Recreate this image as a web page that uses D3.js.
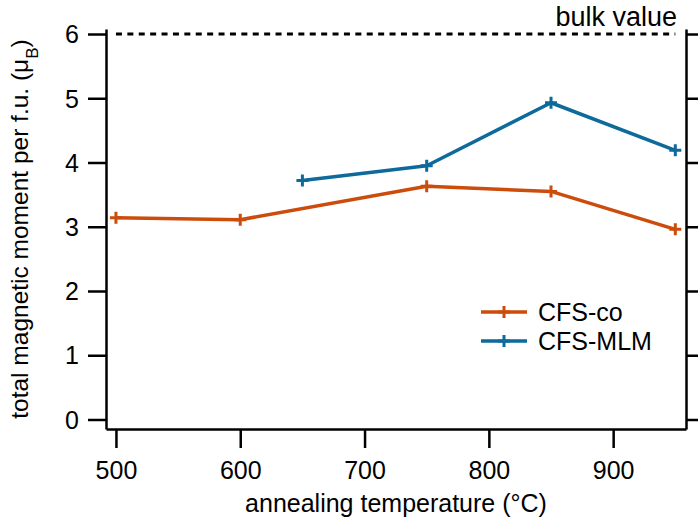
<!DOCTYPE html>
<html>
<head>
<meta charset="utf-8">
<script src="https://cdn.jsdelivr.net/npm/d3@7"></script>
<style>
  body { margin: 0; background: #fff; }
  svg { font-family: "Liberation Sans", Arial, Helvetica, sans-serif; }
</style>
</head>
<body>
<svg id="chart" width="698" height="523"></svg>
<script>
// data
const coTemps = [500, 600, 750, 850, 950]
const coMoments = [3.14, 3.11, 3.63, 3.55, 2.96]
const mlmTemps = [650, 750, 850, 950]
const mlmMoments = [3.72, 3.95, 4.93, 4.19]
const bulkValue = 6
const bulkRange = [500, 950]
const xTicks = [500, 600, 700, 800, 900]
const yTicks = [0, 1, 2, 3, 4, 5, 6]

const orange = "#cc4c0c"
const blue = "#0d6a9b"

let svg = d3.select("#chart")

let x = d3.scaleLinear()
  .domain([492, 958.6])
  .range([106, 686])

let y = d3.scaleLinear()
  .domain([-0.148, 6.078])
  .range([429, 29])

// axes
let xAxis = d3.axisBottom(x).tickValues(xTicks).tickSize(19).tickSizeOuter(0).tickPadding(13)
  .tickFormat(d3.format("d"))
let yAxis = d3.axisLeft(y).tickValues(yTicks).tickSize(18).tickSizeOuter(0).tickPadding(10)
  .tickFormat(d3.format("d"))
let yAxisRight = d3.axisRight(y).tickValues(yTicks).tickSize(18).tickSizeOuter(0).tickFormat("")

function styleAxis(g) {
  g.selectAll("path, line").attr("stroke", "#000").attr("stroke-width", 2.5)
  g.selectAll("text").attr("fill", "#000").attr("font-size", 25)
}

let gx = svg.append("g")
  .attr("transform", "translate(0,429)")
  .call(xAxis)
  .call(styleAxis)
gx.selectAll(".tick line").attr("x1", 0).attr("x2", 0).attr("y1", 0).attr("y2", 19)
gx.selectAll(".tick text").attr("y", 32).attr("dy", "0.71em")

let gy = svg.append("g")
  .attr("transform", "translate(106,0)")
  .call(yAxis)
  .call(styleAxis)
gy.selectAll(".tick line").attr("y1", 0).attr("y2", 0).attr("x1", 0).attr("x2", -18)
gy.selectAll(".tick text").attr("x", -27).attr("dy", "0.35em").attr("text-anchor", "end")

let gyr = svg.append("g")
  .attr("transform", "translate(686,0)")
  .call(yAxisRight)
  .call(styleAxis)
gyr.selectAll(".tick line").attr("y1", 0).attr("y2", 0).attr("x1", 0).attr("x2", 18)

// bulk value line
svg.append("line")
  .attr("x1", x(bulkRange[0]))
  .attr("x2", x(bulkRange[1]))
  .attr("y1", y(bulkValue))
  .attr("y2", y(bulkValue))
  .attr("stroke", "#000")
  .attr("stroke-width", 3)
  .attr("stroke-dasharray", "6,5.4")

svg.append("text")
  .attr("x", 677)
  .attr("y", 26)
  .attr("text-anchor", "end")
  .attr("font-size", 27)
  .text("bulk value")

// series
let line = d3.line()
  .x(d => x(d[0]))
  .y(d => y(d[1]))

function drawSeries(temps, vals, color) {
  let pts = temps.map((t, i) => [t, vals[i]])
  svg.append("path")
    .datum(pts)
    .attr("d", line)
    .attr("fill", "none")
    .attr("stroke", color)
    .attr("stroke-width", 3.5)
    .attr("stroke-linejoin", "round")

  svg.append("g").selectAll("path")
    .data(pts)
    .enter()
    .append("path")
    .attr("d", d => {
      let cx = x(d[0]), cy = y(d[1]), s = 6
      return "M" + (cx - s) + "," + cy + "H" + (cx + s) + "M" + cx + "," + (cy - s) + "V" + (cy + s)
    })
    .attr("stroke", color)
    .attr("stroke-width", 3)
}

drawSeries(coTemps, coMoments, orange)
drawSeries(mlmTemps, mlmMoments, blue)

// legend
let legend = [
  { name: "CFS-co", color: orange },
  { name: "CFS-MLM", color: blue }
]

let lg = svg.append("g").selectAll("g")
  .data(legend)
  .enter()
  .append("g")
  .attr("transform", (d, i) => "translate(0," + (312 + i * 29) + ")")

lg.append("line")
  .attr("x1", 481).attr("x2", 527)
  .attr("stroke", d => d.color)
  .attr("stroke-width", 3.5)

lg.append("path")
  .attr("d", "M498,0H510M504,-6V6")
  .attr("stroke", d => d.color)
  .attr("stroke-width", 3)

lg.append("text")
  .attr("x", 538)
  .attr("y", 9)
  .attr("font-size", 25)
  .text(d => d.name)

// axis titles
svg.append("text")
  .attr("x", 396)
  .attr("y", 512)
  .attr("text-anchor", "middle")
  .attr("font-size", 25)
  .text("annealing temperature (°C)")

let yt = svg.append("text")
  .attr("transform", "translate(28,229) rotate(-90)")
  .attr("text-anchor", "middle")
  .attr("font-size", 24.5)

yt.append("tspan").text("total magnetic moment per f.u. (μ")
yt.append("tspan").attr("baseline-shift", "sub").attr("font-size", 17).text("B")
yt.append("tspan").text(")")
</script>
</body>
</html>
